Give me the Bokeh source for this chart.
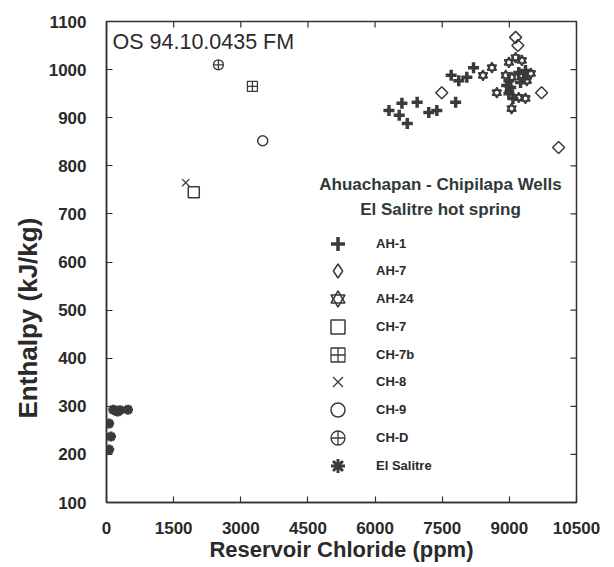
import math
from bokeh.plotting import figure
from bokeh.models import (Range1d, FixedTicker, Legend, LegendItem, Label, Title)
from bokeh.embed import file_html
from bokeh.resources import INLINE

# ---------------- data ----------------
x_ticks = [0, 1500, 3000, 4500, 6000, 7500, 9000, 10500]
y_ticks = [100, 200, 300, 400, 500, 600, 700, 800, 900, 1000, 1100]

ah1_cl = [6310, 6600, 6540, 6720, 6940, 7200, 7380, 7800, 7700, 7870, 8050, 8200,
          8990, 9030, 8990, 9080, 8940, 9210, 9320, 9250, 9360]
ah1_h = [915, 930, 905, 888, 932, 911, 915, 932, 988, 977, 984, 1004,
         977, 963, 950, 940, 967, 994, 981, 973, 998]

ah7_cl = [7490, 9720, 10100, 9140, 9190]
ah7_h = [952, 952, 838, 1067, 1050]

ah24_cl = [8610, 8410, 8990, 9140, 9280, 8920, 9050, 9480, 9390, 8720, 9210, 9360, 9050, 9000, 9270]
ah24_h = [1004, 988, 1015, 1025, 1019, 988, 984, 992, 977, 952, 942, 940, 919, 960, 985]

ch7_cl = [1950]
ch7_h = [745]
ch7b_cl = [3260]
ch7b_h = [965]
ch8_cl = [1770]
ch8_h = [765]
ch9_cl = [3490]
ch9_h = [852]
chd_cl = [2500]
chd_h = [1010]

salitre_cl = [150, 200, 250, 300, 480, 60, 100, 60]
salitre_h = [293, 291, 289, 292, 293, 264, 237, 210]

legend_labels = ["AH-1", "AH-7", "AH-24", "CH-7", "CH-7b", "CH-8", "CH-9", "CH-D", "El Salitre"]
legend_title_1 = "Ahuachapan - Chipilapa Wells"
legend_title_2 = "El Salitre hot spring"
corner_text = "OS 94.10.0435 FM"
x_title = "Reservoir Chloride (ppm)"
y_title = "Enthalpy (kJ/kg)"

# ---------------- figure ----------------
FONT = "Liberation Sans"
TXT = "#2a2a2a"
MK = "#3a3a3a"
AX = "#333333"
X0, X1, Y0, Y1 = 0, 10500, 100, 1100
FRAME_L, FRAME_R, FRAME_T, FRAME_B = 106, 576, 21, 502
FW, FH = FRAME_R - FRAME_L, FRAME_B - FRAME_T

def sx_to_data(sx):
    return X0 + (sx - FRAME_L) * (X1 - X0) / FW

def sy_to_data(sy):
    return Y0 + (FRAME_B - sy) * (Y1 - Y0) / FH

p = figure(width=614, height=567, output_backend="svg", toolbar_location=None,
           x_range=Range1d(X0, X1), y_range=Range1d(Y0, Y1),
           min_border_left=FRAME_L, min_border_right=614 - FRAME_R,
           min_border_top=FRAME_T, min_border_bottom=567 - FRAME_B,
           background_fill_color="white", border_fill_color="white")
p.outline_line_color = AX
p.outline_line_width = 1.5
p.xgrid.visible = False
p.ygrid.visible = False

for ax, ticks in ((p.xaxis[0], x_ticks), (p.yaxis[0], y_ticks)):
    ax.ticker = FixedTicker(ticks=ticks)
    ax.major_tick_in = 6
    ax.major_tick_out = 0
    ax.minor_tick_line_color = None
    ax.axis_line_color = AX
    ax.axis_line_width = 1.5
    ax.major_tick_line_color = AX
    ax.major_tick_line_width = 1.2
    ax.major_label_text_font = FONT
    ax.major_label_text_font_style = "bold"
    ax.major_label_text_color = TXT
    ax.major_label_text_font_size = "17px"
    ax.axis_label_text_font = FONT
    ax.axis_label_text_font_style = "bold"
    ax.axis_label_text_color = TXT

p.xaxis[0].major_label_standoff = 19
p.yaxis[0].major_label_standoff = 20
p.xaxis[0].axis_label = x_title
p.xaxis[0].axis_label_text_font_size = "22px"
p.xaxis[0].axis_label_standoff = 0

# y title: a left-side title starting from the lower part of the frame, as in the reference
y_t = Title(text=y_title, align="left", offset=84, text_font=FONT, text_font_style="bold",
            text_font_size="26px", text_color=TXT, standoff=6)
p.add_layout(y_t, "left")

# inward tick marks on the top and right frame edges (derived from the tick lists)
tick_dx = (X1 - X0) * 6 / FW
tick_dy = (Y1 - Y0) * 6 / FH
p.segment(x0=x_ticks, x1=x_ticks, y0=[Y1] * len(x_ticks), y1=[Y1 - tick_dy] * len(x_ticks),
          line_color=AX, line_width=1.2)
p.segment(x0=[X1] * len(y_ticks), x1=[X1 - tick_dx] * len(y_ticks), y0=y_ticks, y1=y_ticks,
          line_color=AX, line_width=1.2)

# ---------------- glyphs ----------------
r_ah1 = p.scatter(ah1_cl, ah1_h, marker="cross", size=11, line_color=MK, line_width=3.5)
r_ah7 = p.scatter(ah7_cl, ah7_h, marker="square", angle=math.pi / 4, size=8.5, fill_color=None,
                  line_color=MK, line_width=1.5)
# hidden twin so that the legend key is drawn as a diamond
r_ah7_key = p.scatter(ah7_cl, ah7_h, marker="diamond", size=12, fill_color=None,
                      line_color=MK, line_width=1.5, visible=False)
r_ah24a = p.scatter(ah24_cl, ah24_h, marker="triangle", size=9, fill_color=None,
                    line_color=MK, line_width=1.6)
r_ah24b = p.scatter(ah24_cl, ah24_h, marker="inverted_triangle", size=9, fill_color=None,
                    line_color=MK, line_width=1.6)
r_ch7 = p.scatter(ch7_cl, ch7_h, marker="square", size=11, fill_color=None,
                  line_color=MK, line_width=1.5)
r_ch7b = p.scatter(ch7b_cl, ch7b_h, marker="square_cross", size=10, fill_color=None,
                   line_color=MK, line_width=1.3)
r_ch8 = p.scatter(ch8_cl, ch8_h, marker="x", size=10, line_color=MK, line_width=1.3)
r_ch9 = p.scatter(ch9_cl, ch9_h, marker="circle", size=10, fill_color=None,
                  line_color=MK, line_width=1.5)
r_chd = p.scatter(chd_cl, chd_h, marker="circle_cross", size=10, fill_color=None,
                  line_color=MK, line_width=1.3)
r_sal = p.scatter(salitre_cl, salitre_h, marker="asterisk", size=10, line_color=MK,
                  line_width=3)

legend_renderers = [[r_ah1], [r_ah7_key], [r_ah24a, r_ah24b], [r_ch7], [r_ch7b],
                    [r_ch8], [r_ch9], [r_chd], [r_sal]]

# one single-entry legend per row so that the keys can be large while rows stay tight
ROW = 27.75
GLYPH = 35
FIRST_CENTER = 243          # screen y of first key centre
for i, (lab, rends) in enumerate(zip(legend_labels, legend_renderers)):
    vy = FRAME_B - (FIRST_CENTER + ROW * i + GLYPH / 2)
    lg = Legend(items=[LegendItem(label=lab, renderers=rends)], location=(214, vy))
    lg.glyph_width = GLYPH
    lg.glyph_height = GLYPH
    lg.label_standoff = 21
    lg.padding = 0
    lg.margin = 0
    lg.spacing = 0
    lg.background_fill_alpha = 0
    lg.border_line_alpha = 0
    lg.inactive_fill_alpha = 0
    lg.label_text_font = FONT
    lg.label_text_font_style = "bold"
    lg.label_text_font_size = "13px"
    lg.label_text_color = TXT
    p.add_layout(lg)

for txt, sy in ((legend_title_1, 184), (legend_title_2, 209)):
    p.add_layout(Label(x=sx_to_data(440), y=sy_to_data(sy), text=txt, text_align="center",
                       text_baseline="middle", text_font=FONT, text_font_style="bold",
                       text_font_size="17px", text_color="#2d3a38"))

p.add_layout(Label(x=sx_to_data(112), y=sy_to_data(41), text=corner_text, text_align="left",
                   text_baseline="middle", text_font=FONT, text_font_size="21.5px",
                   text_color=TXT))

open("out.html", "w").write(file_html(p, INLINE))
